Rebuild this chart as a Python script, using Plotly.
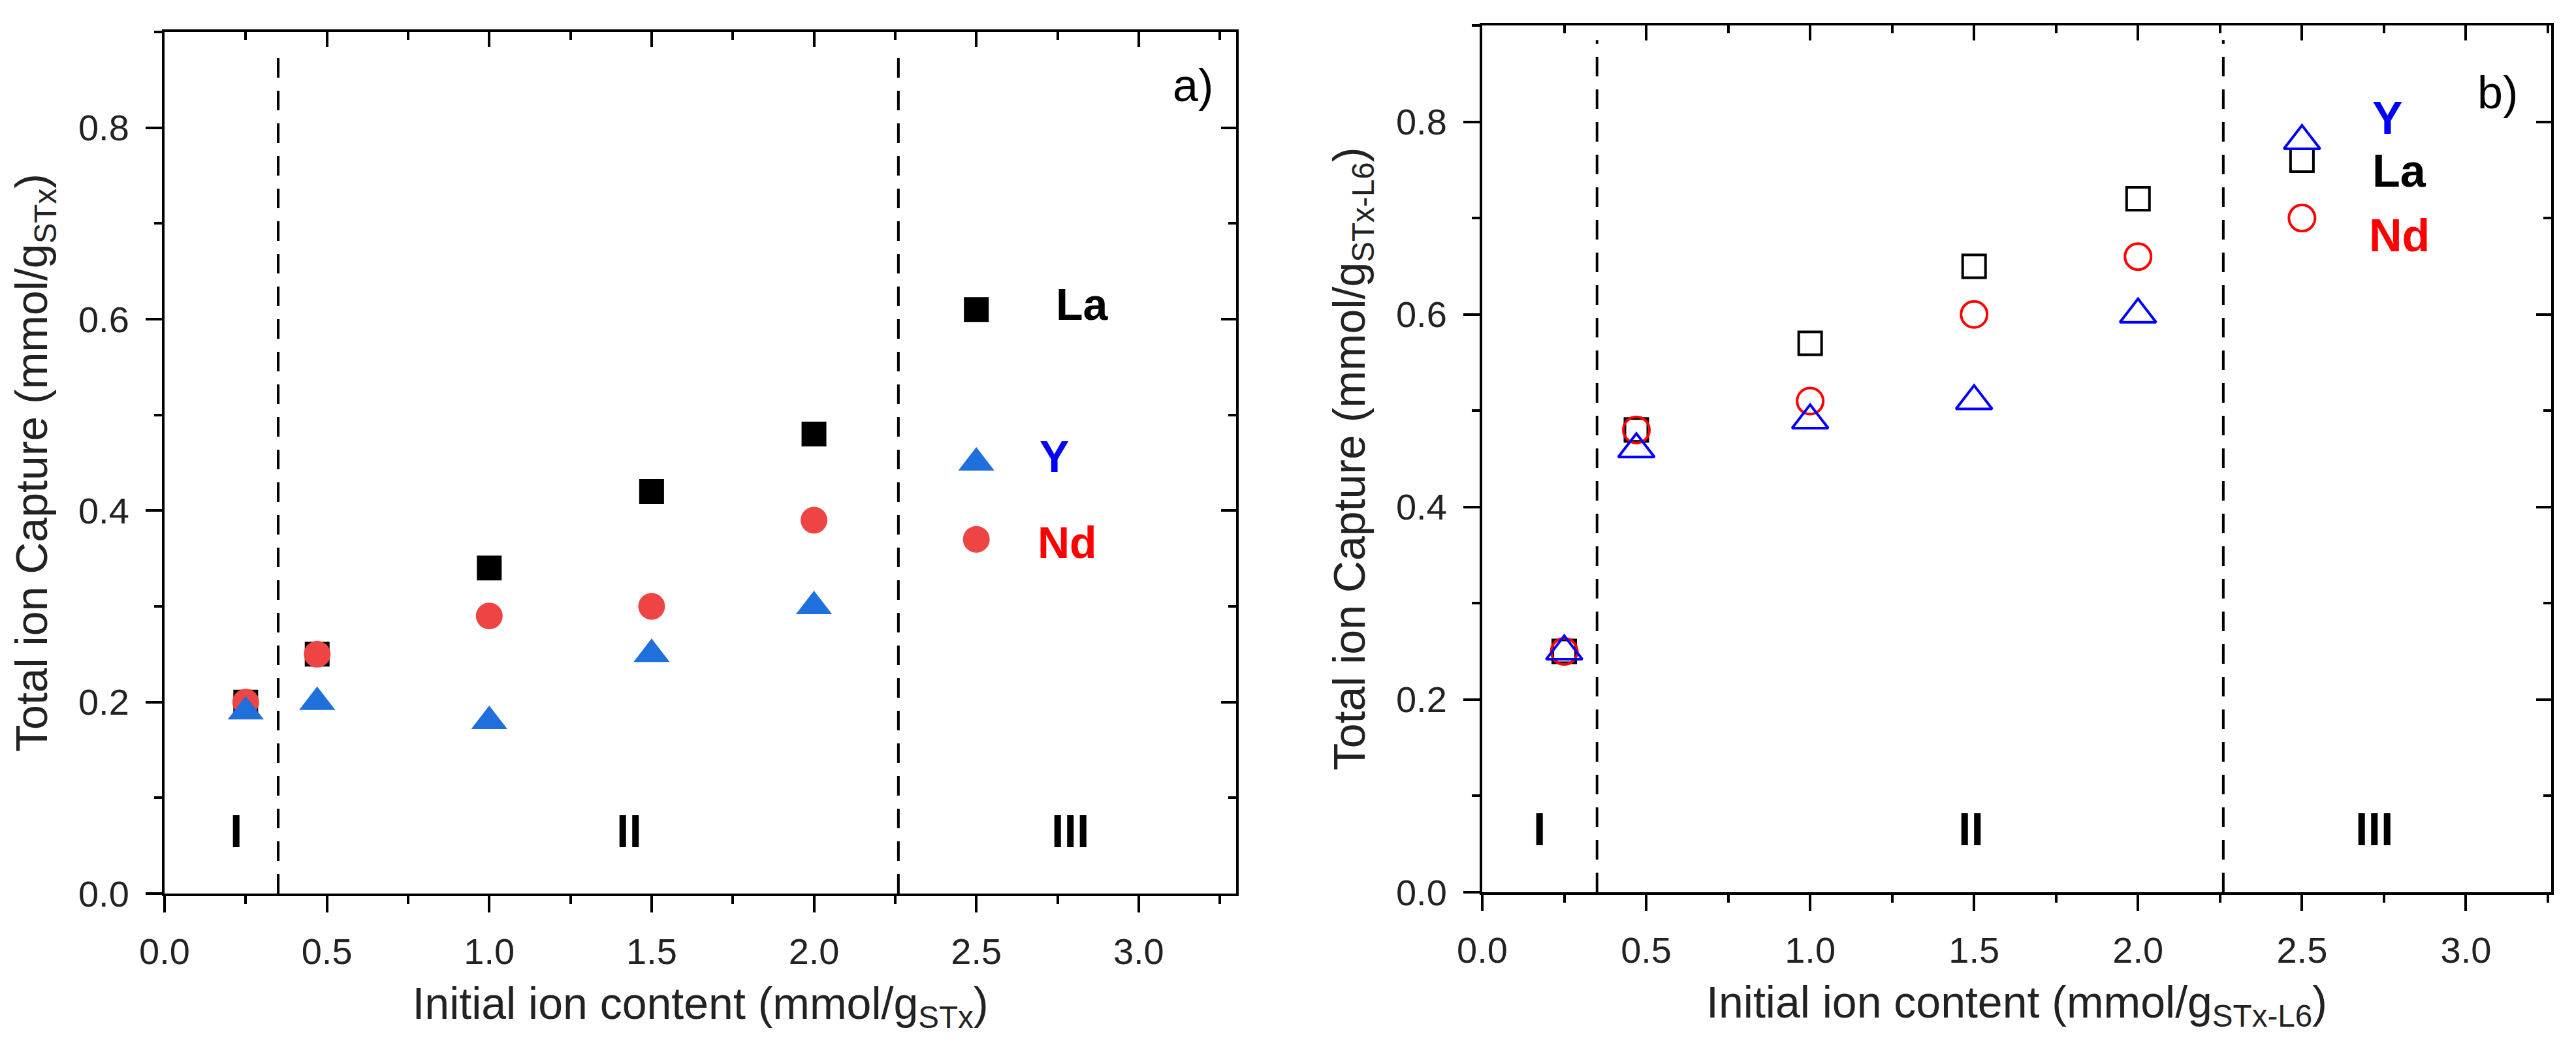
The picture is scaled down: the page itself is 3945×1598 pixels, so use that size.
import plotly.graph_objects as go

# Initial ion content (mmol/g)
conc_a = [0.25, 0.47, 1.0, 1.5, 2.0]
conc_b = [0.25, 0.47, 1.0, 1.5, 2.0]

# a) total ion capture, STx
la_a = [0.20, 0.25, 0.34, 0.42, 0.48]
nd_a = [0.20, 0.25, 0.29, 0.30, 0.39]
y_a = [0.19, 0.20, 0.18, 0.25, 0.30]

# b) total ion capture, STx-L6
la_b = [0.25, 0.48, 0.57, 0.65, 0.72]
nd_b = [0.25, 0.48, 0.51, 0.60, 0.66]
y_b = [0.25, 0.46, 0.49, 0.51, 0.60]

# key markers drawn inside the plots (x = 2.5)
key_x = 2.5
key_a = {"La": 0.61, "Y": 0.45, "Nd": 0.37}
key_b = {"La": 0.76, "Y": 0.78, "Nd": 0.70}

# region boundaries and labels
bounds = [0.35, 2.26]
regions = ["I", "II", "III"]
region_x_a = [0.22, 1.43, 2.79]
region_x_b = [0.175, 1.49, 2.72]
region_y = 0.065

FONT = "Arial, Liberation Sans, sans-serif"
BLUE_FILL = "#1f6fdc"
RED_FILL = "#ef4444"

fig = go.Figure()

# panel a - filled symbols
fig.add_trace(go.Scatter(x=conc_a + [key_x], y=la_a + [key_a["La"]], mode="markers",
                         marker=dict(symbol="square", size=38, color="black"),
                         xaxis="x", yaxis="y"))
fig.add_trace(go.Scatter(x=conc_a + [key_x], y=nd_a + [key_a["Nd"]], mode="markers",
                         marker=dict(symbol="circle", size=41, color=RED_FILL),
                         xaxis="x", yaxis="y"))
fig.add_trace(go.Scatter(x=conc_a + [key_x], y=y_a + [key_a["Y"]], mode="markers",
                         marker=dict(symbol="triangle-up", size=48, color=BLUE_FILL),
                         xaxis="x", yaxis="y"))

# panel b - open symbols
fig.add_trace(go.Scatter(x=conc_b + [key_x], y=la_b + [key_b["La"]], mode="markers",
                         marker=dict(symbol="square-open", size=35, color="black",
                                     line=dict(width=4)),
                         xaxis="x2", yaxis="y2"))
fig.add_trace(go.Scatter(x=conc_b + [key_x], y=nd_b + [key_b["Nd"]], mode="markers",
                         marker=dict(symbol="circle-open", size=40, color="#ff0000",
                                     line=dict(width=4)),
                         xaxis="x2", yaxis="y2"))
fig.add_trace(go.Scatter(x=conc_b + [key_x], y=y_b + [key_b["Y"]], mode="markers",
                         marker=dict(symbol="triangle-up-open", size=48, color="#0000ff",
                                     line=dict(width=4)),
                         xaxis="x2", yaxis="y2"))

# empty traces so the mirrored (inside-tick) axes get drawn
for xa, ya in [("x3", "y3"), ("x4", "y4")]:
    fig.add_trace(go.Scatter(x=[], y=[], xaxis=xa, yaxis=ya, hoverinfo="skip"))

# dashed region boundaries
for xr, yr in [("x", "y"), ("x2", "y2")]:
    for b in bounds:
        fig.add_shape(type="line", xref=xr, yref=yr, x0=b, x1=b, y0=0, y1=0.885,
                      line=dict(color="black", width=4, dash="30px,20px"))

# region numerals
for xr, yr, xs in [("x", "y", region_x_a), ("x2", "y2", region_x_b)]:
    for name, xv in zip(regions, xs):
        fig.add_annotation(x=xv, y=region_y, xref=xr, yref=yr, text=name, showarrow=False,
                           font=dict(family=FONT, size=70, color="black", weight="bold"))

# key labels
colors = {"La": "black", "Y": "#0000ff", "Nd": "#ff0000"}
key_label_x_a = {"La": 2.74, "Y": 2.69, "Nd": 2.685}
key_label_y_a = {"La": 0.616, "Y": 0.457, "Nd": 0.367}
key_label_x_b = {"La": 2.71, "Y": 2.71, "Nd": 2.70}
key_label_y_b = {"La": 0.749, "Y": 0.804, "Nd": 0.682}
for name in ["La", "Y", "Nd"]:
    fig.add_annotation(x=key_label_x_a[name], y=key_label_y_a[name], xref="x", yref="y",
                       text=name, showarrow=False, xanchor="left",
                       font=dict(family=FONT, size=68, color=colors[name], weight="bold"))
    fig.add_annotation(x=key_label_x_b[name], y=key_label_y_b[name], xref="x2", yref="y2",
                       text=name, showarrow=False, xanchor="left",
                       font=dict(family=FONT, size=70, color=colors[name], weight="bold"))

fig.add_annotation(x=3.10, y=0.844, xref="x", yref="y", text="a)", showarrow=False,
                   xanchor="left", font=dict(family=FONT, size=70, color="black"))
fig.add_annotation(x=3.03, y=0.83, xref="x2", yref="y2", text="b)", showarrow=False,
                   xanchor="left", font=dict(family=FONT, size=70, color="black"))

tick_font = dict(family=FONT, size=56, color="#222222")
title_font = dict(family=FONT, size=68, color="#222222")


def xaxis_style(domain, rng, anchor, title):
    return dict(domain=domain, range=rng, anchor=anchor, dtick=0.5, tick0=0,
                automargin=False, tickformat=".1f", ticks="outside", ticklen=25,
                tickwidth=4, tickcolor="black", showline=True, linewidth=4,
                linecolor="black", showgrid=False, zeroline=False, tickfont=tick_font,
                ticklabelstandoff=12,
                minor=dict(dtick=0.25, ticks="outside", ticklen=12, tickwidth=4,
                           tickcolor="black"),
                title=dict(text=title, font=title_font, standoff=26))


def yaxis_style(domain, anchor, title):
    return dict(domain=domain, range=[0, 0.9], anchor=anchor, dtick=0.2, tick0=0,
                automargin=False, tickformat=".1f", ticks="outside", ticklen=25,
                tickwidth=4, tickcolor="black", showline=True, linewidth=4,
                linecolor="black", showgrid=False, zeroline=False, tickfont=tick_font,
                ticklabelstandoff=14,
                minor=dict(dtick=0.1, ticks="outside", ticklen=12, tickwidth=4,
                           tickcolor="black"),
                title=dict(text=title, font=title_font, standoff=26))


def mirror_x(over, rng, anchor):
    return dict(overlaying=over, range=rng, anchor=anchor, side="top", dtick=0.5, tick0=0,
                automargin=False, ticks="inside", ticklen=23, tickwidth=4,
                tickcolor="black", showline=True, linewidth=4, linecolor="black",
                showticklabels=False, showgrid=False, zeroline=False,
                minor=dict(dtick=0.25, ticks="inside", ticklen=12, tickwidth=4,
                           tickcolor="black"))


def mirror_y(over, anchor):
    return dict(overlaying=over, range=[0, 0.9], anchor=anchor, side="right", dtick=0.2,
                tick0=0, automargin=False, ticks="inside", ticklen=23, tickwidth=4,
                tickcolor="black", showline=True, linewidth=4, linecolor="black",
                showticklabels=False, showgrid=False, zeroline=False,
                minor=dict(dtick=0.1, ticks="inside", ticklen=12, tickwidth=4,
                           tickcolor="black"))


dom_xa = [244 / 3945, 1885 / 3945]
dom_xb = [2262 / 3945, 3899 / 3945]
dom_ya = [1 - 1361 / 1598, 1 - 41 / 1598]
dom_yb = [1 - 1359 / 1598, 1 - 31 / 1598]

fig.update_layout(
    width=3945, height=1598,
    margin=dict(l=0, r=0, t=0, b=0, autoexpand=False),
    paper_bgcolor="white", plot_bgcolor="white",
    showlegend=False,
    xaxis=xaxis_style(dom_xa, [0, 3.3], "y", "Initial ion content (mmol/g<sub>STx</sub>)"),
    yaxis=yaxis_style(dom_ya, "x", "Total ion Capture (mmol/g<sub>STx</sub>)"),
    xaxis2=xaxis_style(dom_xb, [0, 3.26], "y2", "Initial ion content (mmol/g<sub>STx-L6</sub>)"),
    yaxis2=yaxis_style(dom_yb, "x2", "Total ion Capture (mmol/g<sub>STx-L6</sub>)"),
    xaxis3=mirror_x("x", [0, 3.3], "y"),
    yaxis3=mirror_y("y", "x"),
    xaxis4=mirror_x("x2", [0, 3.26], "y2"),
    yaxis4=mirror_y("y2", "x2"),
)

fig.write_html("out.html")
